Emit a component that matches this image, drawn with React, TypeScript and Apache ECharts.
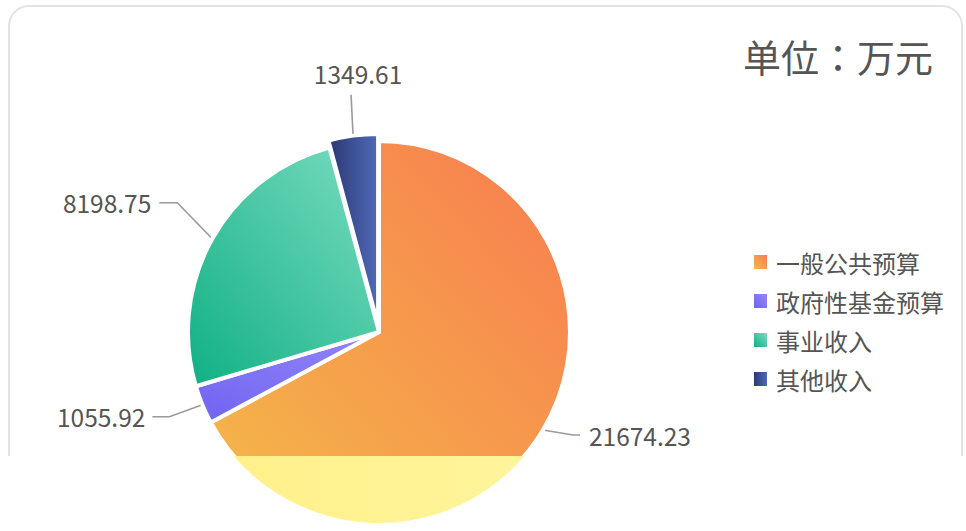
import React, { useEffect, useRef } from 'react';
import * as echarts from 'echarts';

const categories = ['一般公共预算', '政府性基金预算', '事业收入', '其他收入'];
const values = [21674.23, 1055.92, 8198.75, 1349.61];
const unitTitle = '单位：万元';

const W = 966;
const H = 531;
const CUT_Y = 456;
const CENTER = [379, 332];
const RADIUS = 191;
const PULL = 7; // outward offset of the last slice
const PULLED = 3;
const FONT = '"Noto Sans CJK SC", "Microsoft YaHei", sans-serif';
const TITLE_FONT = '"Noto Sans CJK JP", "Noto Sans CJK SC", sans-serif';
const CLEAR = 'rgba(0,0,0,0)';

function grad(x: number, y: number, x2: number, y2: number, c0: string, c1: string) {
  return new echarts.graphic.LinearGradient(x, y, x2, y2, [
    { offset: 0, color: c0 },
    { offset: 1, color: c1 },
  ]);
}

const mainColors = () => [
  grad(1, 0, 0, 1, '#f87c50', '#f4b949'),
  grad(1, 0, 0, 1, '#9286f9', '#7064f2'),
  grad(1, 0, 0, 1, '#7bdcc1', '#10b083'),
  grad(0, 0, 1, 0, '#2c3873', '#4f6ab8'),
];
const lowColors = () => [grad(0, 0, 1, 0, '#fff089', '#fff59e'), CLEAR, CLEAR, CLEAR];

// direction of the pulled slice's mid angle (pie starts at top, clockwise)
function pulledCenter() {
  const total = values.reduce((s, v) => s + v, 0);
  const before = values.slice(0, PULLED).reduce((s, v) => s + v, 0);
  const mid = ((before + values[PULLED] / 2) / total) * Math.PI * 2;
  return [CENTER[0] + Math.sin(mid) * PULL, CENTER[1] - Math.cos(mid) * PULL];
}

// label placement offsets relative to the slice-edge point given by ECharts
const labelLayout = (p: any) => {
  const pts = p.labelLinePoints;
  if (!pts || !pts[0]) return {};
  const a = pts[0];
  const i = p.dataIndex;
  const lw = p.labelRect ? p.labelRect.width : 86;
  if (i === 3) {
    const endY = a[1] - 41;
    return {
      x: a[0] + 5 + lw / 2,
      y: endY - 21,
      verticalAlign: 'middle',
      labelLinePoints: [a, [a[0] - 2, endY], [a[0] - 2, endY]],
    };
  }
  if (i === 2) {
    return {
      x: a[0] - 61,
      y: a[1] - 36,
      verticalAlign: 'middle',
      labelLinePoints: [a, [a[0] - 35, a[1] - 36], [a[0] - 53, a[1] - 36]],
    };
  }
  if (i === 1) {
    return {
      x: a[0] - 57,
      y: a[1] + 12,
      verticalAlign: 'middle',
      labelLinePoints: [a, [a[0] - 33, a[1] + 12], [a[0] - 50, a[1] + 12]],
    };
  }
  return {
    x: a[0] + 46,
    y: a[1] + 6,
    verticalAlign: 'middle',
    labelLinePoints: [a, [a[0] + 30, a[1] + 5], [a[0] + 37, a[1] + 5]],
  };
};

const labelOn = {
  show: true,
  position: 'outside',
  formatter: (p: any) => String(p.value),
  fontFamily: FONT,
  fontSize: 24.5,
  color: '#555555',
};
const lineOn = { show: true, length: 38, length2: 16, lineStyle: { color: '#9a9a9a', width: 1.6 } };

// visible: which data indices this series paints
function makeSeries(colors: any[], visible: (i: number) => boolean, center: number[], withLabels: boolean) {
  return {
    type: 'pie',
    center,
    radius: RADIUS,
    startAngle: 90,
    clockwise: true,
    avoidLabelOverlap: false,
    silent: true,
    emphasis: { disabled: true },
    label: { show: false },
    labelLine: { show: false },
    labelLayout: withLabels ? labelLayout : undefined,
    data: categories.map((name, i) => {
      const on = visible(i);
      return {
        name,
        value: values[i],
        itemStyle: on
          ? { color: colors[i], borderColor: '#ffffff', borderWidth: withLabels ? 4 : 0 }
          : { color: CLEAR, borderWidth: 0 },
        label: on && withLabels ? labelOn : { show: false },
        labelLine: on && withLabels ? lineOn : { show: false },
      };
    }),
  };
}

export default function App() {
  const mainRef = useRef<HTMLDivElement>(null);
  const lowRef = useRef<HTMLDivElement>(null);

  useEffect(() => {
    if (!mainRef.current || !lowRef.current) return;
    const main = echarts.init(mainRef.current, undefined, { renderer: 'svg' });
    const low = echarts.init(lowRef.current, undefined, { renderer: 'svg' });
    const colors = mainColors();

    main.setOption({
      animation: false,
      backgroundColor: '#ffffff',
      title: {
        text: unitTitle,
        right: 28,
        top: 31,
        textStyle: { fontFamily: TITLE_FONT, fontSize: 38, fontWeight: 'normal', color: '#555555' },
      },
      legend: {
        orient: 'vertical',
        left: 749,
        top: 245,
        icon: 'rect',
        itemWidth: 13,
        itemHeight: 14,
        itemGap: 15,
        selectedMode: false,
        textStyle: { fontFamily: FONT, fontSize: 24, lineHeight: 24, color: '#555555', padding: [0, 0, 0, 4] },
        data: categories.map((name, i) => ({ name, itemStyle: { color: colors[i], borderWidth: 0 } })),
      },
      graphic: [
        {
          type: 'rect',
          silent: true,
          z: -10,
          shape: { x: 9, y: 6, width: 953, height: 520, r: 20 },
          style: { fill: 'none', stroke: '#e3e3e3', lineWidth: 2 },
        },
      ],
      series: [
        makeSeries(colors, (i) => i !== PULLED, CENTER, true),
        makeSeries(colors, (i) => i === PULLED, pulledCenter(), true),
      ],
    });

    low.setOption({
      animation: false,
      backgroundColor: '#ffffff',
      series: [makeSeries(lowColors(), (i) => i === 0, CENTER, false)],
    });

    return () => {
      main.dispose();
      low.dispose();
    };
  }, []);

  return (
    <div style={{ position: 'fixed', left: 0, top: 0, width: W, height: H, background: '#ffffff' }}>
      <div ref={mainRef} style={{ position: 'absolute', left: 0, top: 0, width: W, height: H }} />
      <div
        style={{
          position: 'absolute',
          left: 0,
          top: CUT_Y,
          width: W,
          height: H - CUT_Y,
          overflow: 'hidden',
          background: '#ffffff',
        }}
      >
        <div ref={lowRef} style={{ position: 'absolute', left: 0, top: -CUT_Y, width: W, height: H }} />
      </div>
    </div>
  );
}
